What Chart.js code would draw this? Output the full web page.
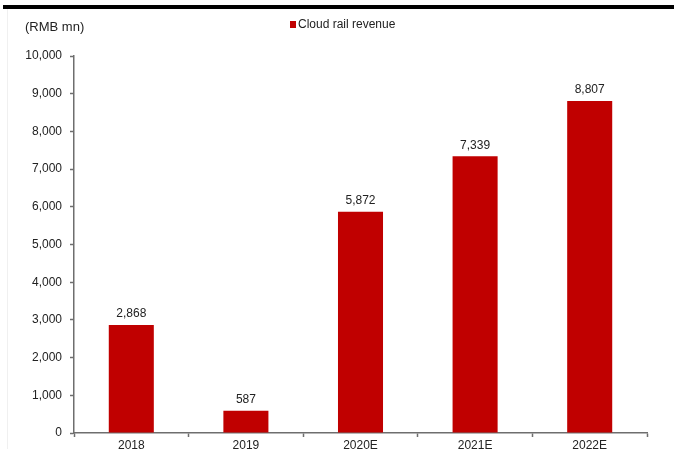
<!DOCTYPE html>
<html>
<head>
<meta charset="utf-8">
<script src="https://cdn.jsdelivr.net/npm/chart.js@4/dist/chart.umd.min.js"></script>
<style>
  html, body { margin: 0; padding: 0; background: #fff; }
  #wrap { position: relative; width: 674px; height: 458px; }
  canvas { display: block; }
</style>
</head>
<body>
<div id="wrap"><canvas id="c" width="674" height="458"></canvas></div>
<script>
// Cloud rail revenue, RMB mn
const years = ['2018', '2019', '2020E', '2021E', '2022E'];
const revenue = [2868, 587, 5872, 7339, 8807];
const yTicks = [0, 1000, 2000, 3000, 4000, 5000, 6000, 7000, 8000, 9000, 10000];
const seriesName = 'Cloud rail revenue';
const unitLabel = '(RMB mn)';

const FONT = '"Liberation Sans", Arial, sans-serif';
const RED = '#C00000';
const AXIS = '#6e6e6e';
const TEXT = '#222222';

const fmt = v => v.toLocaleString('en-US');

// Frame rule, unit caption, legend and value labels
const decorations = {
  id: 'decorations',
  afterDraw(chart) {
    const ctx = chart.ctx;
    ctx.save();
    // heavy rule across the top
    ctx.fillStyle = '#000';
    ctx.fillRect(3, 5, 671, 4);
    // faint left border
    ctx.fillStyle = '#f0f0f0';
    ctx.fillRect(7, 9, 1, 440);

    ctx.fillStyle = TEXT;
    ctx.textBaseline = 'middle';
    ctx.textAlign = 'left';
    ctx.font = '13px ' + FONT;
    ctx.fillText(unitLabel, 25, 27);

    // legend
    ctx.font = '12px ' + FONT;
    ctx.fillStyle = RED;
    ctx.fillRect(290, 21, 6, 7);
    ctx.fillStyle = TEXT;
    ctx.fillText(seriesName, 298, 25);

    // value labels above bars
    const meta = chart.getDatasetMeta(0);
    ctx.textAlign = 'center';
    ctx.textBaseline = 'bottom';
    meta.data.forEach((bar, i) => {
      ctx.fillText(fmt(revenue[i]), bar.x, bar.y - 5);
    });
    ctx.restore();
  }
};

new Chart(document.getElementById('c'), {
  type: 'bar',
  data: {
    labels: years,
    datasets: [{
      label: seriesName,
      data: revenue,
      backgroundColor: RED,
      borderWidth: 0,
      categoryPercentage: 1.0,
      barPercentage: 0.393
    }]
  },
  options: {
    responsive: false,
    animation: false,
    events: [],
    layout: { padding: { left: 0, right: 27, top: 56, bottom: 0 } },
    plugins: {
      legend: { display: false },
      tooltip: { enabled: false }
    },
    scales: {
      x: {
        offset: true,
        grid: {
          offset: true,
          drawOnChartArea: false,
          drawTicks: true,
          tickLength: 4,
          tickColor: AXIS,
          tickWidth: 1.5
        },
        border: { color: AXIS, width: 1.5 },
        ticks: {
          color: TEXT,
          font: { family: FONT, size: 12 },
          padding: 1,
          maxRotation: 0
        },
        afterFit(scale) { scale.height = 25; }
      },
      y: {
        min: 0,
        max: 10000,
        afterBuildTicks(scale) { scale.ticks = yTicks.map(v => ({ value: v })); },
        grid: {
          drawOnChartArea: false,
          drawTicks: true,
          tickLength: 4,
          tickColor: AXIS,
          tickWidth: 1.5
        },
        border: { color: AXIS, width: 1.5 },
        ticks: {
          color: TEXT,
          font: { family: FONT, size: 12 },
          padding: 8,
          callback: v => fmt(v)
        },
        afterFit(scale) { scale.width = 74; }
      }
    }
  },
  plugins: [decorations]
});
</script>
</body>
</html>
